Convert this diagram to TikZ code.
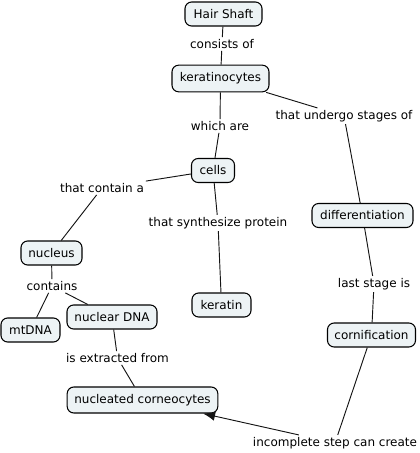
\documentclass[tikz,border=0pt]{standalone}
\usepackage{fontspec}
\setmainfont{DejaVu Sans}
\usetikzlibrary{
  arrows.meta,
  positioning,
}
\definecolor{cConcept}{RGB}{237,243,245}
\definecolor{cLine}{RGB}{20,20,20}
\tikzset{
  % Concept box (argument: width)
  concept/.style={
    rectangle, rounded corners=5pt,
    draw=black, fill=cConcept, line width=0.8pt,
    minimum width=#1, minimum height=18pt, inner xsep=3pt,
    font=\fontsize{9}{10}\selectfont, align=center,
  },
  concept/.default=40pt,
  % Linking phrase
  phrase/.style={
    font=\fontsize{9}{10}\selectfont, fill=white,
    inner sep=1.5pt, align=center,
  },
  % Plain connector
  link/.style={draw=cLine, line width=0.7pt},
  % Connector with head
  arr/.style={link, -{Latex[length=9pt, width=7pt]}},
}

\begin{document}
\begin{tikzpicture}[x=0.75pt, y=-0.75pt]
\useasboundingbox (0,0) rectangle (419,453);

% ── Concepts ──────────────────────────────────────────────────────────────────
\node[concept=57.75pt] (shaft) at (223.5,14)  {Hair Shaft};
\node[concept=72.75pt, minimum height=20pt] (kera) at (220.5,78.5) {keratinocytes};
\node[concept=32.25pt] (cells) at (213,170.5) {cells};
\node[concept=75.75pt] (diff)  at (362.5,215.5) {differentiation};
\node[concept=45.75pt] (nucl)  at (51.5,253)  {nucleus};
\node[concept=44.25pt] (ktin)  at (221.5,305) {keratin};
\node[concept=67.5pt]  (ndna)  at (112,317)   {nuclear DNA};
\node[concept=44.25pt] (mt)    at (30.5,330)  {mtDNA};
\node[concept=66pt]    (corn)  at (371.5,335) {cornification};
\node[concept=113pt, minimum height=19.5pt] (ncor) at (142.5,400) {nucleated corneocytes};

% ── Linking phrases ───────────────────────────────────────────────────────────
\node[phrase] (pCons)  at (222,44)    {consists of};
\node[phrase] (pWhich) at (220,126)   {which are};
\node[phrase] (pStage) at (344,116)   {that undergo stages of};
\node[phrase] (pCont)  at (102,188)   {that contain a};
\node[phrase] (pSynth) at (218,223)   {that synthesize protein};
\node[phrase] (pLast)  at (374,284)   {last stage is};
\node[phrase] (pHas)   at (52,286)    {contains};
\node[phrase] (pExtr)  at (117.5,358) {is extracted from};
\node[phrase] (pIncom) at (335,443)   {incomplete step can create};

% ── Connectors ────────────────────────────────────────────────────────────────
\draw[link] (shaft) -- (pCons);
\draw[link] (pCons) -- (kera);

\draw[link] (kera) -- (pWhich);
\draw[link] (pWhich) -- (cells);

\draw[link] (kera) -- (pStage);
\draw[link] (pStage) -- (diff);

\draw[link] (cells) -- (pCont);
\draw[link] (pCont) -- (nucl);

\draw[link] (cells) -- (pSynth);
\draw[link] (pSynth) -- (ktin);

\draw[link] (diff) -- (pLast);
\draw[link] (pLast) -- (corn);

\draw[link] (nucl) -- (pHas);
\draw[link] (pHas) -- (mt);
\draw[link] (pHas) -- (ndna);

\draw[link] (ndna) -- (pExtr);
\draw[link] (pExtr) -- (ncor);

\draw[link] (corn) -- (pIncom);
\draw[arr]  (pIncom) -- (ncor);

\end{tikzpicture}
\end{document}
